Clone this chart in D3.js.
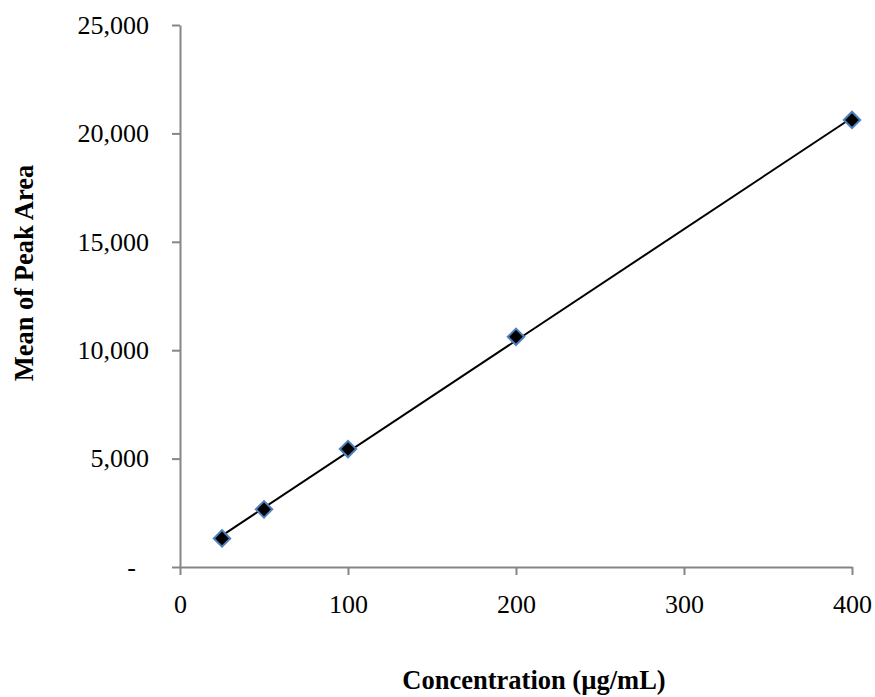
<!DOCTYPE html>
<html>
<head>
<meta charset="utf-8">
<script src="https://cdn.jsdelivr.net/npm/d3@7"></script>
<style>
    body { margin: 0; background: #fff; }
    svg text { font-family: "Liberation Serif", "Times New Roman", serif; fill: #000; }
</style>
</head>
<body>
<svg id="chart" width="875" height="697"></svg>
<script>
// Calibration data
const concentrations = [25, 50, 100, 200, 400];
const peakAreas = [1320, 2660, 5440, 10620, 20620];
const xTicks = [0, 100, 200, 300, 400];
const yTicks = [0, 5000, 10000, 15000, 20000, 25000];

const svg = d3.select("#chart");
const margin = {top: 25, right: 23, bottom: 130, left: 180};
const W = 875, H = 697;

const x = d3.scaleLinear().domain([0, 400]).range([margin.left, W - margin.right]);
const y = d3.scaleLinear().domain([0, 25000]).range([H - margin.bottom, margin.top]);

const axisColor = "#868686";
const fmt = d3.format(",");

// --- Axes ---
const gx = svg.append("g").attr("transform", `translate(0,${y(0)})`)
    .call(d3.axisBottom(x).tickValues(xTicks).tickSize(8).tickSizeOuter(0).tickPadding(20));
const gy = svg.append("g").attr("transform", `translate(${x(0)},0)`)
    .call(d3.axisLeft(y).tickValues(yTicks).tickSize(8).tickSizeOuter(0).tickPadding(23)
        .tickFormat(d => d === 0 ? "-" : fmt(d)));

[gx, gy].forEach(g => {
    g.select(".domain").attr("stroke", axisColor).attr("stroke-width", 2);
    g.selectAll(".tick line").attr("stroke", axisColor).attr("stroke-width", 2);
    g.selectAll("text").attr("font-size", 26).style("font-family", '"Liberation Serif", serif');
});
// accounting style zero dash sits further left
gy.selectAll(".tick text").filter(d => d === 0).attr("x", -44);

// --- Linear trendline ---
const mx = d3.mean(concentrations), my = d3.mean(peakAreas);
let sxy = 0, sxx = 0;
concentrations.forEach((c, i) => {
    sxy += (c - mx) * (peakAreas[i] - my);
    sxx += (c - mx) * (c - mx);
});
const slope = sxy / sxx, intercept = my - slope * mx;
const x0 = d3.min(concentrations), x1 = d3.max(concentrations);

svg.append("line")
    .attr("x1", x(x0)).attr("y1", y(slope * x0 + intercept))
    .attr("x2", x(x1)).attr("y2", y(slope * x1 + intercept))
    .attr("stroke", "#000").attr("stroke-width", 2);

// --- Markers ---
svg.selectAll("path.pt").data(concentrations).join("path")
    .attr("class", "pt")
    .attr("transform", (c, i) => `translate(${x(c)},${y(peakAreas[i])}) rotate(45)`)
    .attr("d", d3.symbol().type(d3.symbolSquare).size(135))
    .attr("fill", "#000")
    .attr("stroke", "#4f81bd")
    .attr("stroke-width", 2);

// --- Titles ---
svg.append("text")
    .attr("x", 534).attr("y", 689)
    .attr("text-anchor", "middle")
    .attr("font-size", 26.5).attr("font-weight", "bold")
    .text("Concentration (µg/mL)");

svg.append("text")
    .attr("transform", "translate(33,273) rotate(-90)")
    .attr("text-anchor", "middle")
    .attr("font-size", 26.5).attr("font-weight", "bold")
    .text("Mean of Peak Area");
</script>
</body>
</html>
